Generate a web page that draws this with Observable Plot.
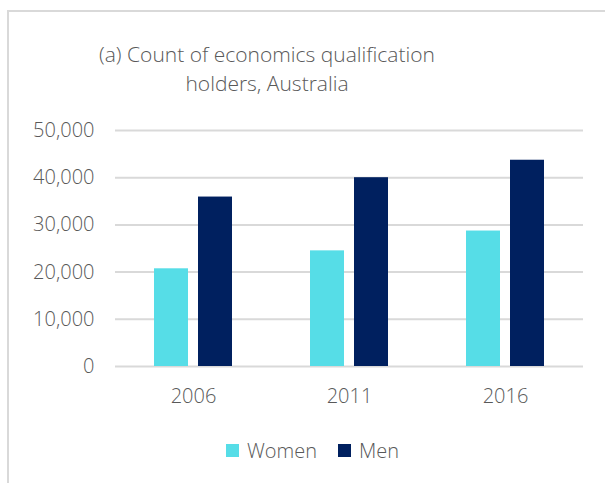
<!DOCTYPE html>
<html>
<head>
<meta charset="utf-8">
<script src="https://cdn.jsdelivr.net/npm/d3@7"></script>
<script src="https://cdn.jsdelivr.net/npm/@observablehq/plot@0.6"></script>
<style>
  html, body { margin: 0; padding: 0; background: #fff; }
  #wrap { position: relative; width: 605px; height: 483px; overflow: hidden; font-family: "Open Sans", sans-serif; color: #595959; }
  #frame { position: absolute; left: 7px; top: 10px; width: 700px; height: 600px; border-left: 2px solid #d9d9d9; border-top: 2px solid #d9d9d9; }
  #title { position: absolute; left: 0; top: 40px; width: 534px; text-align: center; font-size: 21px; font-weight: 300; line-height: 29px; color: #595959; }
  #chart { position: absolute; left: 0; top: 100px; }
  #legend { position: absolute; left: 226px; top: 437px; display: flex; align-items: center; font-size: 20px; font-weight: 300; line-height: 27px; color: #595959; }
  .sw { width: 13px; height: 13px; display: inline-block; margin-right: 8px; }
  .item { display: flex; align-items: center; margin-right: 21px; }
</style>
</head>
<body>
<div id="wrap">
  <div id="frame"></div>
  <div id="title">(a) Count of economics qualification<br>holders, Australia</div>
  <div id="chart"></div>
  <div id="legend"></div>
</div>
<script>
const years = ["2006", "2011", "2016"];
const series = ["Women", "Men"];
const women = [20700, 24500, 28700];
const men = [35900, 40000, 43700];
const colors = ["#56dde7", "#00205f"];
const yTicks = [0, 10000, 20000, 30000, 40000, 50000];

const rows = [];
years.forEach((yr, i) => {
  rows.push({year: yr, sex: "Women", value: women[i]});
  rows.push({year: yr, sex: "Men", value: men[i]});
});

const chart = Plot.plot({
  width: 605,
  height: 320,
  marginTop: 30,
  marginBottom: 54,
  marginLeft: 114,
  marginRight: 22,
  style: { fontFamily: "Open Sans, sans-serif", fontSize: "20px", fontWeight: 300, color: "#595959", background: "transparent", overflow: "visible" },
  fx: { domain: years, paddingInner: 0, paddingOuter: 0, label: null, tickSize: 0, tickPadding: 22 },
  x: { domain: series, paddingInner: 0.222, paddingOuter: 0.848, axis: null },
  y: { domain: [0, 50000], ticks: yTicks, tickFormat: d3.format(","), label: null, tickSize: 0, tickPadding: 21, grid: false },
  color: { domain: series, range: colors },
  marks: [
    Plot.ruleY(yTicks, { stroke: "#d9d9d9", strokeWidth: 2 }),
    Plot.barY(rows, { fx: "year", x: "sex", y: "value", fill: "sex" })
  ]
});
document.getElementById("chart").appendChild(chart);

const legend = document.getElementById("legend");
series.forEach((s, i) => {
  const item = document.createElement("div");
  item.className = "item";
  const sw = document.createElement("span");
  sw.className = "sw";
  sw.style.background = colors[i];
  const t = document.createElement("span");
  t.textContent = s;
  item.appendChild(sw);
  item.appendChild(t);
  legend.appendChild(item);
});
</script>
</body>
</html>
